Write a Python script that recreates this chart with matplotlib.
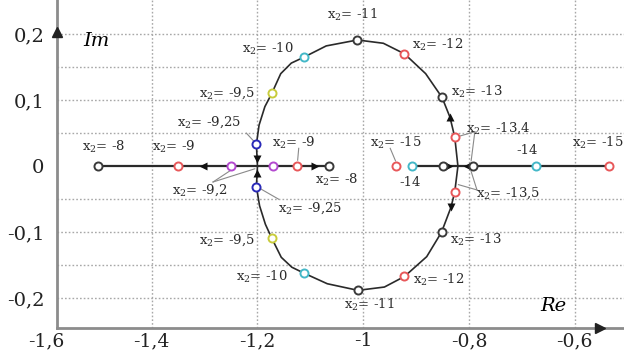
import matplotlib
matplotlib.use("Agg")
import matplotlib.pyplot as plt

plt.rcParams['font.family'] = ['DejaVu Serif']
plt.rcParams['mathtext.fontset'] = 'dejavuserif'

# upper branch of the complex pair (Re, Im)
upper_re = [-1.200, -1.202, -1.197, -1.186, -1.173, -1.156, -1.136, -1.112, -1.070, -1.011,
            -0.962, -0.922, -0.882, -0.851, -0.836, -0.827, -0.821]
upper_im = [0.000, 0.033, 0.062, 0.090, 0.110, 0.140, 0.156, 0.165, 0.182, 0.191,
            0.186, 0.170, 0.140, 0.104, 0.074, 0.044, 0.000]
# lower branch
lower_re = [-1.200, -1.202, -1.196, -1.185, -1.173, -1.155, -1.135, -1.112, -1.068, -1.010,
            -0.960, -0.922, -0.880, -0.852, -0.834, -0.827, -0.821]
lower_im = [0.000, -0.031, -0.060, -0.088, -0.109, -0.138, -0.153, -0.162, -0.178, -0.188,
            -0.183, -0.167, -0.137, -0.100, -0.062, -0.039, 0.000]

# real-axis segments
left_seg = [-1.501, -1.065]
right_seg = [-0.907, -0.535]

# marked roots: Re, Im, colour
pt_re = [-1.501, -1.350, -1.250, -1.171, -1.126, -1.065,
         -1.202, -1.173, -1.112, -1.011, -0.922, -0.851, -0.827,
         -1.202, -1.173, -1.112, -1.010, -0.922, -0.852, -0.827,
         -0.939, -0.907, -0.850, -0.792, -0.674, -0.535]
pt_im = [0, 0, 0, 0, 0, 0,
         0.033, 0.110, 0.165, 0.191, 0.170, 0.104, 0.044,
         -0.031, -0.109, -0.162, -0.188, -0.167, -0.100, -0.039,
         0, 0, 0, 0, 0, 0]
RED, PUR, BLU, YEL, CYA, BLK = '#e8585a', '#b44ad0', '#2a2ab8', '#c8cc3c', '#44b8c8', '#3a3a3a'
pt_col = [BLK, RED, PUR, PUR, RED, BLK,
          BLU, YEL, CYA, BLK, RED, BLK, RED,
          BLU, YEL, CYA, BLK, RED, BLK, RED,
          RED, CYA, BLK, BLK, CYA, RED]

# labels: text, Re, Im
lab_txt = ['x$_2$= -11', 'x$_2$= -10', 'x$_2$= -12', 'x$_2$= -9,5', 'x$_2$= -13', 'x$_2$= -9,25',
           'x$_2$= -9', 'x$_2$= -8', 'x$_2$= -9', 'x$_2$= -15', 'x$_2$= -13,4', '-14', 'x$_2$= -15',
           '-14', 'x$_2$= -8', 'x$_2$= -9,2', 'x$_2$= -9,25', 'x$_2$= -13,5', 'x$_2$= -9,5',
           'x$_2$= -13', 'x$_2$= -10', 'x$_2$= -12', 'x$_2$= -11']
lab_re = [-1.021, -1.181, -0.860, -1.257, -0.785, -1.291,
          -1.358, -1.491, -1.131, -0.939, -0.745, -0.691, -0.557,
          -0.912, -1.050, -1.310, -1.100, -0.727, -1.257,
          -0.787, -1.191, -0.857, -0.989]
lab_im = [0.229, 0.177, 0.183, 0.110, 0.112, 0.067,
          0.029, 0.029, 0.035, 0.035, 0.058, 0.024, 0.035,
          -0.024, -0.021, -0.036, -0.064, -0.041, -0.112,
          -0.112, -0.167, -0.173, -0.210]

fig = plt.figure(figsize=(6.24, 3.53), dpi=100)
ax = fig.add_axes([57 / 624, 25 / 353, 567 / 624, 328 / 353])
ax.set_xlim(-1.579, -0.507)
ax.set_ylim(-0.245, 0.2515)

for y in [-0.2, -0.15, -0.1, -0.05, 0.05, 0.1, 0.15, 0.2]:
    ax.axhline(y, color='#a8a8a8', lw=1.0, ls=(0, (1.2, 1.5)), zorder=0)
for x in [-1.4, -1.2, -1.0, -0.8, -0.6]:
    ax.axvline(x, color='#a8a8a8', lw=1.0, ls=(0, (1.2, 1.5)), zorder=0)

ax.plot(left_seg, [0, 0], color='#2a2a2a', lw=1.6, zorder=2)
ax.plot(right_seg, [0, 0], color='#2a2a2a', lw=1.6, zorder=2)
ax.plot(upper_re, upper_im, color='#2a2a2a', lw=1.2, zorder=2)
ax.plot(lower_re, lower_im, color='#2a2a2a', lw=1.2, zorder=2)

# direction arrows
arrows = [(-1.303, 0, '<'), (-1.091, 0, '>'), (-1.2, 0.011, 'v'), (-1.2, -0.011, '^'),
          (-0.836, 0.074, '^'), (-0.834, -0.062, 'v'), (-0.838, 0, '>'), (-0.803, 0, '<')]
for ax_, ay_, m in arrows:
    ax.plot(ax_, ay_, marker=m, color='#111111', ms=6, mec='none', zorder=3)

for x, y, c in zip(pt_re, pt_im, pt_col):
    ax.plot(x, y, 'o', ms=5.8, mfc='white', mec=c, mew=1.4, zorder=4)

# leader lines
leaders = [((-1.221, 0.050), (-1.206, 0.037)),
           ((-1.122, 0.027), (-1.124, 0.009)),
           ((-1.284, -0.024), (-1.250, -0.006)),
           ((-1.284, -0.024), (-1.205, -0.004)),
           ((-1.160, -0.050), (-1.197, -0.033)),
           ((-0.949, 0.027), (-0.939, 0.008)),
           ((-0.789, 0.052), (-0.820, 0.045)),
           ((-0.789, 0.052), (-0.796, 0.008)),
           ((-0.785, -0.036), (-0.820, -0.028)),
           ((-0.785, -0.036), (-0.796, -0.008))]
for (x0, y0), (x1, y1) in leaders:
    ax.plot([x0, x1], [y0, y1], color='#8a8a8a', lw=0.8, zorder=3)

for t, x, y in zip(lab_txt, lab_re, lab_im):
    ax.text(x, y, t, ha='center', va='center', fontsize=9.5, color='#2a2a2a', zorder=5,
            clip_on=False)

for s in ['top', 'right']:
    ax.spines[s].set_visible(False)
for s in ['left', 'bottom']:
    ax.spines[s].set_color('#8c8c8c')
    ax.spines[s].set_linewidth(2)

ax.plot(-1.579, 0.203, marker='^', color='#222222', ms=7, clip_on=False, zorder=6)
ax.plot(-0.552, -0.245, marker='>', color='#222222', ms=7, clip_on=False, zorder=6)

ax.set_xticks([-1.4, -1.2, -1.0, -0.8, -0.6])
ax.set_xticklabels(['-1,4', '-1,2', '-1', '-0,8', '-0,6'])
ax.set_yticks([-0.2, -0.1, 0, 0.1, 0.2])
ax.set_yticklabels(['-0,2', '-0,1', '0', '0,1', '0,2'])
ax.tick_params(axis='x', length=0, pad=3, labelsize=13.5, colors='#222222')
ax.tick_params(axis='y', length=0, pad=9, labelsize=14, colors='#222222')
ax.annotate('-1,6', xy=(-1.6, 0), xycoords=('data', 'axes fraction'), xytext=(0, -3),
            textcoords='offset points', ha='center', va='top', fontsize=13.5,
            color='#222222', annotation_clip=False)

ax.text(-1.505, 0.19, 'Im', fontstyle='italic', fontsize=14, ha='center', va='center')
ax.text(-0.64, -0.212, 'Re', fontstyle='italic', fontsize=14, ha='center', va='center')

fig.savefig('out.png', dpi=100)
